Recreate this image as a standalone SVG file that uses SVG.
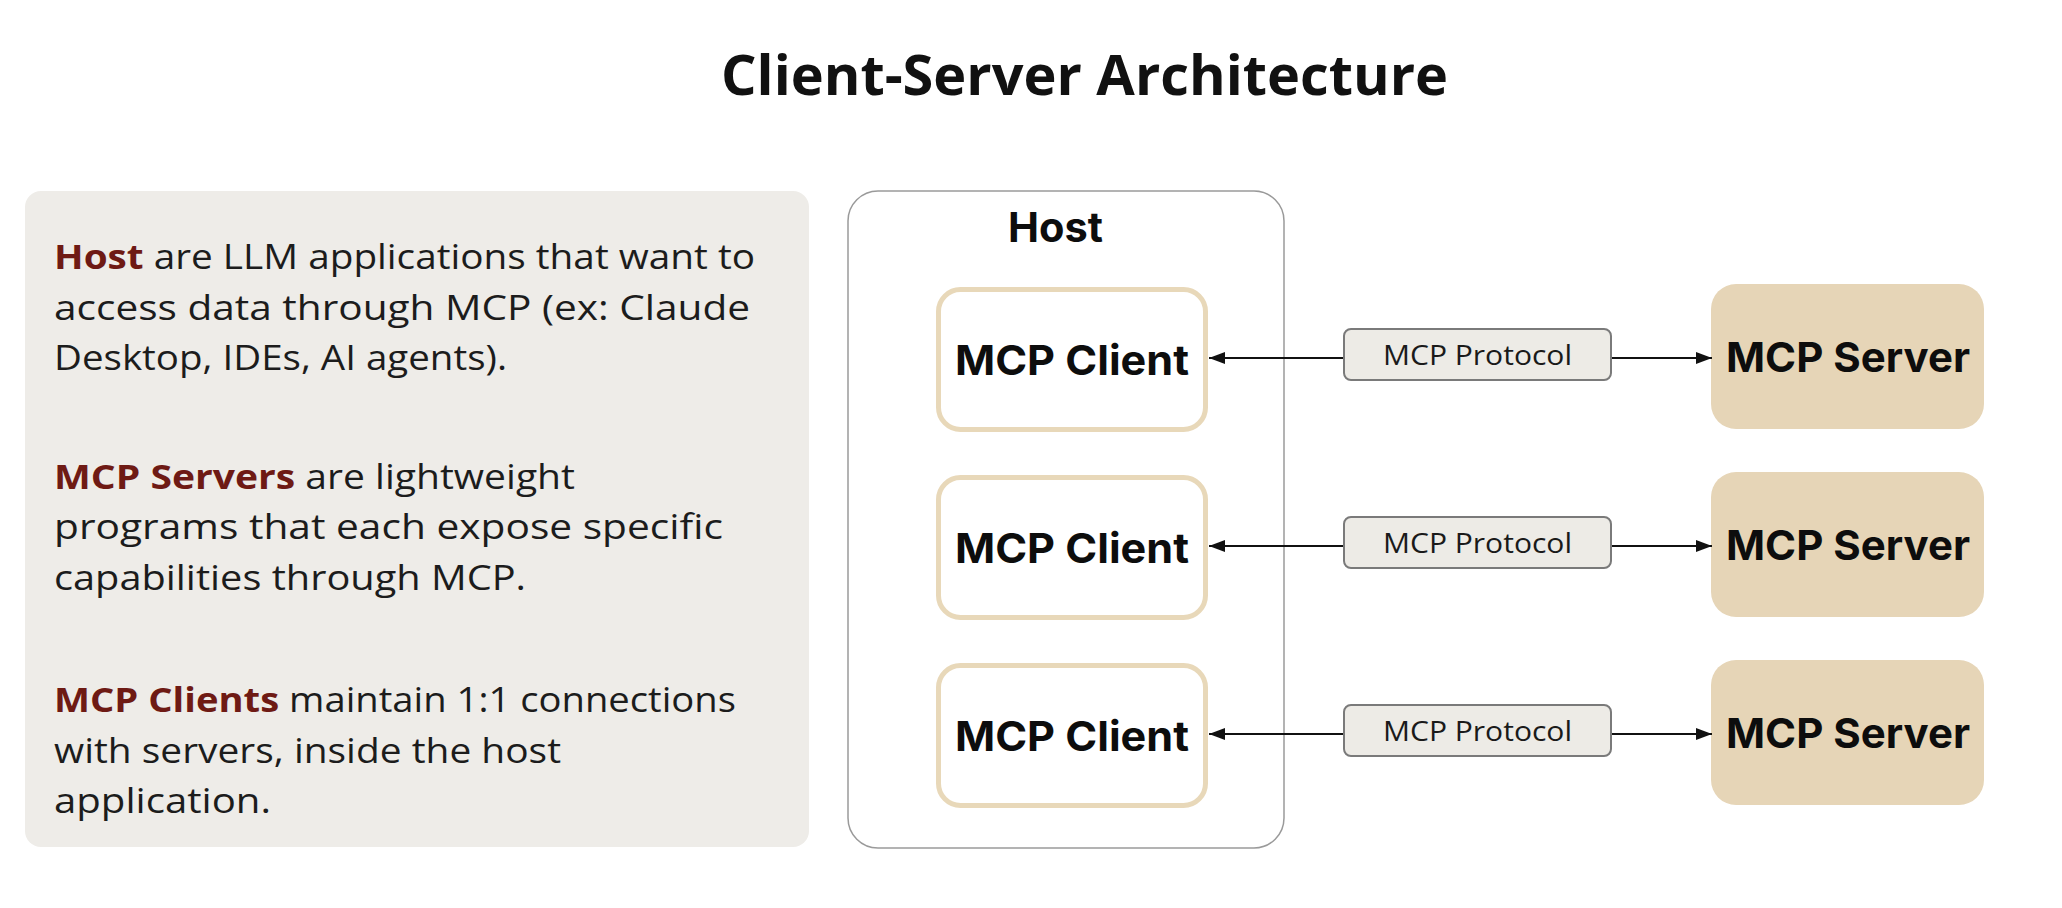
<svg xmlns="http://www.w3.org/2000/svg" width="2062" height="908" viewBox="0 0 2062 908">
<style>
.title{font-family:"Open Sans","Liberation Sans",sans-serif;font-weight:700;font-size:55px;fill:#111}
.body{font-family:"Open Sans","Liberation Sans",sans-serif;font-size:34px;fill:#1c1c1c}
.em{font-weight:700;fill:#6e1a14}
.node{font-family:Inter,"Liberation Sans",sans-serif;font-weight:700;font-size:41px;fill:#0d0d0d}
.proto{font-family:"Open Sans","Liberation Sans",sans-serif;font-size:27px;fill:#1a1a1a}
.client{fill:#fff;stroke:#e8d8b9;stroke-width:5}
.server{fill:#e6d5b7}
.pbox{fill:#edebe6;stroke:#7a7a7a;stroke-width:2}
.conn{stroke:#111;stroke-width:2;fill:none}
</style>
<defs>
<marker id="ah" viewBox="0 0 16 12" refX="16" refY="6" markerWidth="16" markerHeight="12" markerUnits="userSpaceOnUse" orient="auto">
<path d="M0,0 L16,6 L0,12 Z" fill="#111"/>
</marker>
</defs>
<rect width="2062" height="908" fill="#fff"/>
<text class="title" x="721" y="95" textLength="727" lengthAdjust="spacingAndGlyphs">Client-Server Architecture</text>

<g id="info-panel">
<rect x="25" y="191" width="784" height="656" rx="16" fill="#eeece8"/>
<text class="body" x="54" y="269" textLength="701" lengthAdjust="spacingAndGlyphs"><tspan class="em">Host</tspan> are LLM applications that want to</text>
<text class="body" x="54" y="320" textLength="696" lengthAdjust="spacingAndGlyphs">access data through MCP (ex: Claude</text>
<text class="body" x="54" y="370" textLength="453" lengthAdjust="spacingAndGlyphs">Desktop, IDEs, AI agents).</text>
<text class="body" x="54" y="489" textLength="521" lengthAdjust="spacingAndGlyphs"><tspan class="em">MCP Servers</tspan> are lightweight</text>
<text class="body" x="54" y="539" textLength="669" lengthAdjust="spacingAndGlyphs">programs that each expose specific</text>
<text class="body" x="54" y="590" textLength="472" lengthAdjust="spacingAndGlyphs">capabilities through MCP.</text>
<text class="body" x="54" y="712" textLength="682" lengthAdjust="spacingAndGlyphs"><tspan class="em">MCP Clients</tspan> maintain 1:1 connections</text>
<text class="body" x="54" y="763" textLength="507" lengthAdjust="spacingAndGlyphs">with servers, inside the host</text>
<text class="body" x="54" y="813" textLength="217" lengthAdjust="spacingAndGlyphs">application.</text>
</g>

<g id="host">
<rect x="848" y="191" width="436" height="657" rx="30" fill="#fff" stroke="#9a9a9a" stroke-width="1.5"/>
<text class="node" x="1008" y="242" textLength="95" lengthAdjust="spacingAndGlyphs">Host</text>
</g>

<g id="client-1">
<rect class="client" x="938.5" y="289.5" width="267" height="140" rx="22"/>
<text class="node" x="955" y="375" textLength="234" lengthAdjust="spacingAndGlyphs">MCP Client</text>
</g>
<g id="client-2">
<rect class="client" x="938.5" y="477.5" width="267" height="140" rx="22"/>
<text class="node" x="955" y="563" textLength="234" lengthAdjust="spacingAndGlyphs">MCP Client</text>
</g>
<g id="client-3">
<rect class="client" x="938.5" y="665.5" width="267" height="140" rx="22"/>
<text class="node" x="955" y="751" textLength="234" lengthAdjust="spacingAndGlyphs">MCP Client</text>
</g>

<g id="server-1">
<rect class="server" x="1711" y="284" width="273" height="145" rx="25"/>
<text class="node" x="1726" y="372" textLength="244" lengthAdjust="spacingAndGlyphs">MCP Server</text>
</g>
<g id="server-2">
<rect class="server" x="1711" y="472" width="273" height="145" rx="25"/>
<text class="node" x="1726" y="560" textLength="244" lengthAdjust="spacingAndGlyphs">MCP Server</text>
</g>
<g id="server-3">
<rect class="server" x="1711" y="660" width="273" height="145" rx="25"/>
<text class="node" x="1726" y="748" textLength="244" lengthAdjust="spacingAndGlyphs">MCP Server</text>
</g>

<g id="connectors">
<line class="conn" x1="1344" y1="358" x2="1209" y2="358" marker-end="url(#ah)"/>
<line class="conn" x1="1611" y1="358" x2="1712" y2="358" marker-end="url(#ah)"/>
<line class="conn" x1="1344" y1="546" x2="1209" y2="546" marker-end="url(#ah)"/>
<line class="conn" x1="1611" y1="546" x2="1712" y2="546" marker-end="url(#ah)"/>
<line class="conn" x1="1344" y1="734" x2="1209" y2="734" marker-end="url(#ah)"/>
<line class="conn" x1="1611" y1="734" x2="1712" y2="734" marker-end="url(#ah)"/>
</g>

<g id="protocol-1">
<rect class="pbox" x="1344" y="329" width="267" height="51" rx="7"/>
<text class="proto" x="1383" y="365" textLength="189" lengthAdjust="spacingAndGlyphs">MCP Protocol</text>
</g>
<g id="protocol-2">
<rect class="pbox" x="1344" y="517" width="267" height="51" rx="7"/>
<text class="proto" x="1383" y="553" textLength="189" lengthAdjust="spacingAndGlyphs">MCP Protocol</text>
</g>
<g id="protocol-3">
<rect class="pbox" x="1344" y="705" width="267" height="51" rx="7"/>
<text class="proto" x="1383" y="741" textLength="189" lengthAdjust="spacingAndGlyphs">MCP Protocol</text>
</g>
</svg>
